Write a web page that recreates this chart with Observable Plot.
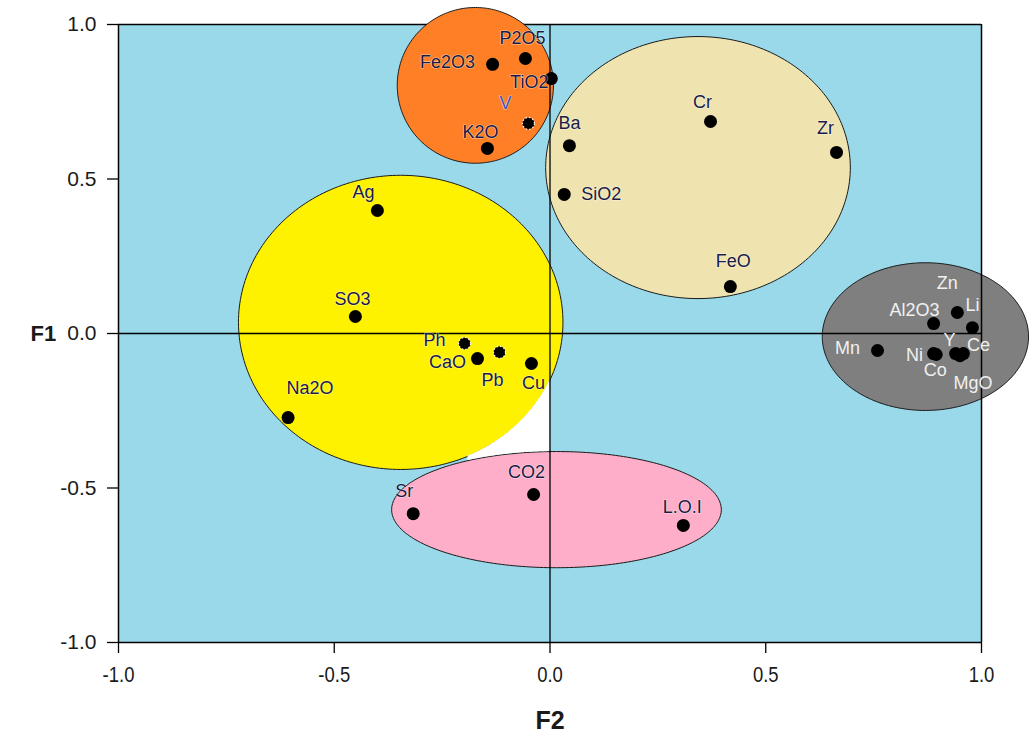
<!DOCTYPE html>
<html>
<head>
<meta charset="utf-8">
<script src="https://cdn.jsdelivr.net/npm/d3@7"></script>
<script src="https://cdn.jsdelivr.net/npm/@observablehq/plot@0.6"></script>
<style>
  html, body { margin: 0; padding: 0; background: #ffffff; }
  #chart svg { display: block; overflow: visible; }
</style>
</head>
<body>
<div id="chart"></div>
<script>
// ---- data ----
const pointNames = ["P2O5","Fe2O3","TiO2","V","K2O","Ba","Cr","Zr","SiO2","FeO",
  "Ag","SO3","Na2O","Ph","CaO","Pb","Cu","CO2","Sr","L.O.I",
  "Zn","Li","Al2O3","Mn","Ni","Co","Y","Ce","MgO"];
const f2Values = [-0.057,-0.133,0.003,-0.050,-0.145,0.045,0.372,0.664,0.033,0.418,
  -0.400,-0.451,-0.607,-0.198,-0.168,-0.117,-0.043,-0.038,-0.317,0.309,
  0.944,0.979,0.889,0.759,0.889,0.895,0.940,0.958,0.950];
const f1Values = [0.890,0.871,0.825,0.680,0.599,0.608,0.686,0.586,0.450,0.152,
  0.398,0.055,-0.272,-0.032,-0.081,-0.061,-0.097,-0.521,-0.583,-0.621,
  0.068,0.019,0.032,-0.055,-0.065,-0.068,-0.065,-0.065,-0.072];

// groups (ellipses) in data units
const groupNames = ["beige","yellow","pink","gray","orange"];
const groupCx = [0.343,-0.346,0.015,0.870,-0.173];
const groupCy = [0.537,0.036,-0.570,-0.010,0.803];
const groupRx = [0.353,0.376,0.382,0.239,0.181];
const groupRy = [0.424,0.476,0.188,0.239,0.252];

const xTicks = [-1,-0.5,0,0.5,1];
const yTicks = [-1,-0.5,0,0.5,1];

// ---- styles / layout (not data) ----
const groupFill = {beige:"#efe4b0", yellow:"#fff200", pink:"#ffaec9", gray:"#7f7f7f", orange:"#ff7f27"};
const hatched = new Set(["V","Ph","Pb"]);
const lightLabels = new Set(["Zn","Li","Al2O3","Mn","Ni","Co","Y","Ce","MgO"]);
const labelOffset = {
  "P2O5":[-3,-20],"Fe2O3":[-45,-2],"TiO2":[-22,4],"V":[-23,-20],"K2O":[-7,-16],
  "Ba":[0,-22],"Cr":[-8,-19],"Zr":[-11,-24],"SiO2":[37,0],"FeO":[3,-25],
  "Ag":[-14,-18],"SO3":[-3,-17],"Na2O":[22,-29],"Ph":[-30,-3],"CaO":[-30,4],
  "Pb":[-7,28],"Cu":[2,20],"CO2":[-7,-22],"Sr":[-9,-22],"L.O.I":[-1,-18],
  "Zn":[-10,-29],"Li":[0,-22],"Al2O3":[-19,-13],"Mn":[-30,-2],"Ni":[-19,2],
  "Co":[-1,16],"Y":[-6,-13],"Ce":[15,-8],"MgO":[13,27]
};

const points = pointNames.map((n,i) => ({name:n, x:f2Values[i], y:f1Values[i]}));

function ellipsePts(i) {
  const pts = [];
  const N = 240;
  for (let k = 0; k < N; k++) {
    const t = 2*Math.PI*k/N;
    pts.push({x: groupCx[i] + groupRx[i]*Math.cos(t), y: groupCy[i] + groupRy[i]*Math.sin(t)});
  }
  return pts;
}
function halfHeight(i, x) {
  const u = (x - groupCx[i]) / groupRx[i];
  return Math.abs(u) <= 1 ? groupRy[i]*Math.sqrt(1-u*u) : NaN;
}
// unfilled gap between yellow and pink groups, left of the F2 = 0 line
const yi = groupNames.indexOf("yellow"), pi = groupNames.indexOf("pink");
const gap = [];
for (let x = -0.19; x <= 0.0001; x += 0.002) {
  const yb = groupCy[yi] - halfHeight(yi, x);
  const pt = groupCy[pi] + halfHeight(pi, x);
  if (yb > pt) gap.push({x, lo: pt, hi: yb});
}

const fmt = d => d.toFixed(1);
const baseFont = "'Liberation Sans', Arial, Helvetica, sans-serif";

const marks = [
  Plot.frame({fill:"#99d9ea", stroke:null}),
  Plot.ruleY([1], {stroke:"#000", strokeWidth:1.5}),
  ...groupNames.map((g,i) => Plot.line(ellipsePts(i), {x:"x", y:"y", curve:"linear-closed",
      fill: groupFill[g], stroke:"#1a1a1a", strokeWidth:1})),
  Plot.area(gap, {x1:"x", y1:"lo", y2:"hi", fill:"#ffffff", curve:"linear"}),
  Plot.ruleY([0], {stroke:"#000", strokeWidth:1.3}),
  Plot.ruleX([0], {stroke:"#000", strokeWidth:1.3}),
  Plot.ruleX([-1], {stroke:"#000", strokeWidth:1.5}),
  Plot.ruleX([1], {stroke:"#000", strokeWidth:1.5}),
  Plot.ruleY([-1], {stroke:"#000", strokeWidth:1.5}),
  Plot.axisX({ticks:xTicks, tickFormat:fmt, tickSize:11, tickPadding:13, fontSize:22,
      fontFamily:baseFont, stroke:"#000", strokeWidth:1.3, fill:"#1a1a1a", label:null}),
  Plot.axisY({ticks:yTicks, tickFormat:fmt, tickSize:11, tickPadding:11, fontSize:21,
      fontFamily:baseFont, stroke:"#000", strokeWidth:1.3, fill:"#1a1a1a", label:null}),
  Plot.text(["F2"], {frameAnchor:"bottom", dy:86, fontSize:25, fontWeight:"bold",
      fontFamily:baseFont, fill:"#1a1a1a", ariaLabel:"F2 title"}),
  Plot.text(["F1"], {frameAnchor:"left", dx:-88, fontSize:22, fontWeight:"bold",
      fontFamily:baseFont, fill:"#1a1a1a"}),
  Plot.dot(points.filter(p => !hatched.has(p.name)), {x:"x", y:"y", r:6.5, fill:"#000", stroke:"none"}),
  Plot.dot(points.filter(p => hatched.has(p.name)), {x:"x", y:"y", r:6, fill:"#000",
      stroke:"#ffffff", strokeWidth:1.2, strokeDasharray:"1.5,2"}),
  ...points.map(p => {
    const [dx, dy] = labelOffset[p.name];
    const light = lightLabels.has(p.name);
    return Plot.text([p], {x:"x", y:"y", text:"name", dx, dy, fontSize:18,
      fontFamily:baseFont,
      fill: p.name === "V" ? "#3b55c8" : (light ? "#f0f0f0" : "#1b1b45"),
      stroke: light ? "none" : "#ffffff", strokeWidth:1.2, strokeOpacity:0.55});
  })
];

const chart = Plot.plot({
  width: 1029,
  height: 746,
  marginLeft: 118,
  marginRight: 48,
  marginTop: 24,
  marginBottom: 104,
  x: {domain:[-1,1]},
  y: {domain:[-1,1]},
  style: {background:"#ffffff", fontFamily: baseFont, overflow:"visible"},
  marks
});
// condensed look of the horizontal-axis text, as in the reference
d3.select(chart)
  .selectAll('g[aria-label="x-axis tick label"] text, g[aria-label="F2 title"] text')
  .each(function() {
    const t = this.getAttribute("transform") || "";
    this.setAttribute("transform", (t + " scale(0.84,1)").trim());
  });
document.getElementById("chart").appendChild(chart);
</script>
</body>
</html>
